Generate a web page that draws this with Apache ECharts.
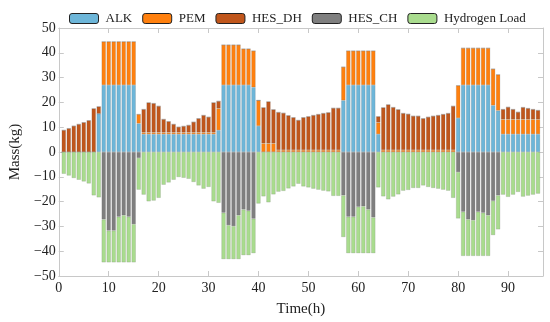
<!DOCTYPE html>
<html><head><meta charset="utf-8">
<script src="https://cdn.jsdelivr.net/npm/echarts@6/dist/echarts.min.js"></script>
<style>html,body{margin:0;padding:0;background:#fff}#c{width:550px;height:322px}</style>
</head><body><div id="c"></div>
<script>
// Axis positions 0..97 (bars at hours 1..96)
const hourTicks = Array.from({length:98},(_,i)=>String(i));
const ALK = [0,0,0,0,0,0,0,15.5,
 27,27,27,27,27,27,27,11.5,
 7.2,7.2,7.2,7.2,7.2,7.2,7.2,7.2,7.2,7.2,7.2,7.2,7.2,7.2,7.2,8.8,
 27,27,27,27,27,27,26.1,10.5,
 0,0,0,0,0,0,0,0,0,0,0,0,0,0,0,0,
 20.8,27,27,27,27,27,27,7.2,
 0,0,0,0,0,0,0,0,0,0,0,0,0,0,0,
 13.7,27,27,27,27,27,27,18.8,16.7,
 7.2,7.2,7.2,7.2,7.2,7.2,7.2,7.2];
const PEM = [0,0,0,0,0,0,0,0,
 17.5,17.5,17.5,17.5,17.5,17.5,17.5,3.7,
 0.7,0.7,0.7,0.7,0.7,0.7,0.7,0.7,0.7,0.7,0.7,0.7,0.7,0.7,0.7,8.8,
 16.2,16.2,16.2,16.2,14.6,14.6,14.7,10.3,
 3.5,3.5,3.5,0.8,0.8,0.8,0.8,0.8,0.8,0.8,0.8,0.8,0.8,0.8,0.8,0.8,
 13.5,13.8,13.8,13.8,13.8,13.8,13.8,4.7,
 0.8,0.8,0.8,0.8,0.8,0.8,0.8,0.8,0.8,0.8,0.8,0.8,0.8,0.8,0.8,
 13.1,14.9,14.9,14.9,14.9,14.9,14.9,14.7,14.5,
 6.0,6.0,6.0,6.0,6.0,6.0,6.0,6.0];
const HES_DH = [8.8,9.5,10.5,11.2,11.9,12.7,17.5,2.8,
 0,0,0,0,0,0,0,0,
 9.3,12.0,11.7,10.6,5.3,4.4,3.3,2.2,2.5,2.9,4.2,5.6,6.9,6.2,12.0,2.9,
 0,0,0,0,0,0,0,0,
 14.4,16.8,13.6,15.2,14.9,13.9,13.1,12.0,13.1,13.5,14.0,14.4,14.8,15.1,16.9,16.9,
 0,0,0,0,0,0,0,2.4,
 17.1,18.3,17.2,16.3,14.8,14.5,13.7,13.7,12.7,13.3,13.7,14.0,14.4,14.8,17.7,
 0,0,0,0,0,0,0,0,0,
 4.0,4.9,4.0,2.9,4.8,4.4,4.0,3.6];
const HES_CH = [0,0,0,0,0,0,0,0,
 -27.2,-31.7,-31.7,-26.1,-25.5,-26.1,-29.1,-2.4,
 0,0,0,0,0,0,0,0,0,0,0,0,0,0,0,0,
 -24.5,-29.5,-29.9,-25.5,-23.2,-23.7,-26.9,0,
 0,0,0,0,0,0,0,0,0,0,0,0,0,0,0,0,
 -17.5,-26.1,-26.1,-22.1,-21.9,-23.2,-26.4,0,
 0,0,0,0,0,0,0,0,0,0,0,0,0,0,0,
 -8.1,-24.1,-27.2,-27.5,-24.1,-24.5,-25.5,-19.7,-17.5,
 0,0,0,0,0,0,0,0];
const LOAD = [-8.8,-9.5,-10.5,-11.2,-11.9,-12.7,-17.5,-18.3,
 -17.3,-12.8,-12.8,-18.4,-19.0,-18.4,-15.4,-12.8,
 -17.2,-19.9,-19.6,-18.5,-13.2,-12.3,-11.2,-10.1,-10.4,-10.8,-12.1,-13.5,-14.8,-14.1,-19.9,-20.5,
 -18.7,-13.7,-13.3,-17.7,-18.4,-17.9,-13.9,-20.8,
 -17.9,-20.3,-17.1,-16.0,-15.7,-14.7,-13.9,-12.8,-13.9,-14.3,-14.8,-15.2,-15.6,-15.9,-17.7,-17.7,
 -16.8,-14.7,-14.7,-18.7,-18.9,-17.6,-14.4,-14.3,
 -17.9,-19.1,-18.0,-17.1,-15.6,-15.3,-14.5,-14.5,-13.5,-14.1,-14.5,-14.8,-15.2,-15.6,-18.5,
 -18.7,-17.8,-14.7,-14.4,-17.8,-17.4,-16.4,-13.8,-13.7,
 -17.2,-18.1,-17.2,-16.1,-18.0,-17.6,-17.2,-16.8];
const seriesNames = ['ALK','PEM','HES_DH','HES_CH','Hydrogen Load'];
const seriesData = [ALK,PEM,HES_DH,HES_CH,LOAD];
const colors = ['#6db6d9','#ff800e','#c0561b','#7f7f7f','#a9dc8e'];

const FONT = 'Liberation Serif';
const axisCol = '#c8c8c8';
const chart = echarts.init(document.getElementById('c'), null, {renderer:'canvas'});
const fmt = v => String(v).replace('-', '\u2212');
const every10 = (i) => i % 10 === 0 && i <= 90;
const baseX = {type:'category', data:hourTicks, boundaryGap:false,
  axisLine:{show:true, onZero:false, lineStyle:{color:axisCol}},
  axisTick:{show:true, inside:true, length:5, interval:every10, lineStyle:{color:axisCol}},
  splitLine:{show:false}};
const baseY = {type:'value', min:-50, max:50, interval:10,
  axisLine:{show:true, onZero:false, lineStyle:{color:axisCol}},
  axisTick:{show:true, inside:true, length:5, lineStyle:{color:axisCol}},
  splitLine:{show:false}};
chart.setOption({
  animation:false,
  color: colors,
  textStyle:{fontFamily:FONT},
  grid:{left:48, right:7, top:28, bottom:44, containLabel:false},
  legend:{top:7, left:64, itemWidth:29, itemHeight:10, itemGap:10,
    textStyle:{fontFamily:FONT, fontSize:13, color:'#222', padding:[0,0,0,2]},
    itemStyle:{borderColor:'#222', borderWidth:1},
    data: seriesNames},
  xAxis:[
    Object.assign({}, baseX, {position:'bottom', name:'Time(h)', nameLocation:'middle', nameGap:26,
      nameTextStyle:{fontFamily:FONT, fontSize:15, color:'#222'},
      axisLabel:{fontFamily:FONT, fontSize:14, color:'#222', margin:5, interval:every10}}),
    Object.assign({}, baseX, {position:'top', axisLabel:{show:false}})
  ],
  yAxis:[
    Object.assign({}, baseY, {position:'left', name:'Mass(kg)', nameLocation:'middle', nameGap:30,
      nameTextStyle:{fontFamily:FONT, fontSize:15, color:'#222'},
      axisLabel:{fontFamily:FONT, fontSize:14, color:'#222', margin:3, formatter:fmt}}),
    Object.assign({}, baseY, {position:'right', axisLabel:{show:false}})
  ],
  series: seriesNames.map((n,i)=>({
    name:n, type:'bar', stack:'all', xAxisIndex:0, yAxisIndex:0,
    barWidth:4.2,
    itemStyle:{color:colors[i], borderColor:'rgba(90,90,90,0.35)', borderWidth:0.5},
    data: [null].concat(seriesData[i], [null])
  }))
});
</script></body></html>
